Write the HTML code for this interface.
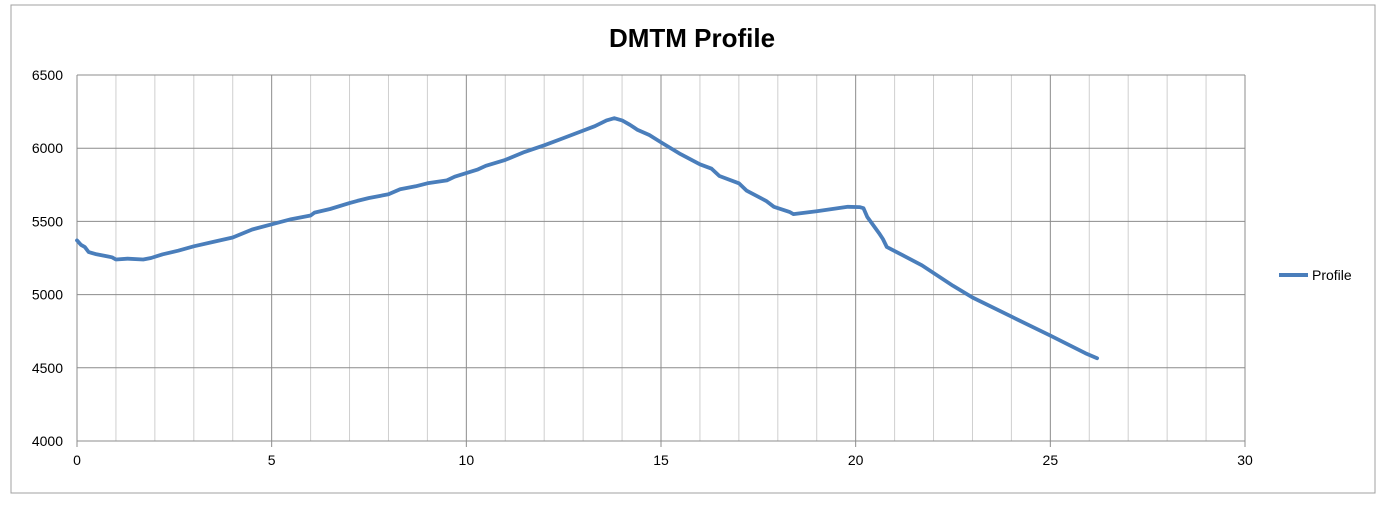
<!DOCTYPE html>
<html><head><meta charset="utf-8"><style>
html,body{margin:0;padding:0;background:#fff;width:1386px;height:510px;overflow:hidden}
svg{display:block;font-family:"Liberation Sans",sans-serif}
</style></head><body>
<svg id="chart" width="1386" height="510">
<rect x="11" y="5" width="1364" height="488" fill="#fff" stroke="#a0a0a0"/>
<text x="692" y="47" text-anchor="middle" font-size="26" font-weight="bold" fill="#000">DMTM Profile</text>
<g id="grid"></g><g id="axes"></g><g id="series"></g>
<g>
<line x1="1279" y1="275" x2="1308" y2="275" stroke="#4a7ebb" stroke-width="4"/>
<text x="1312" y="280" font-size="14" fill="#000">Profile</text>
</g>
</svg>
<script>
const xVals=[0,0.1,0.2,0.3,0.5,0.8,0.9,1.0,1.3,1.7,1.9,2.2,2.6,3,3.5,4,4.5,5,5.5,6,6.1,6.5,7,7.2,7.5,8,8.3,8.7,9,9.5,9.7,10,10.3,10.5,11,11.5,12,12.5,13,13.3,13.6,13.8,14,14.2,14.4,14.7,15,15.5,16,16.3,16.5,17,17.2,17.7,17.9,18.3,18.4,19,19.8,20.1,20.2,20.3,20.6,20.7,20.8,21.2,21.7,22.5,23,24,25,25.9,26.2];
const yVals=[5370,5340,5325,5290,5275,5260,5255,5240,5245,5240,5250,5275,5300,5330,5360,5390,5445,5480,5515,5540,5560,5585,5625,5640,5660,5685,5720,5740,5760,5780,5805,5830,5855,5880,5920,5975,6020,6070,6120,6150,6190,6205,6190,6160,6125,6090,6040,5960,5890,5860,5810,5760,5710,5640,5600,5565,5550,5570,5600,5598,5590,5530,5420,5380,5325,5270,5200,5060,4980,4850,4720,4600,4565];
const xTicks=[0,5,10,15,20,25,30];
const yTicks=[4000,4500,5000,5500,6000,6500];
const X0=77,X1=1245,Y0=441,Y1=75,xMin=0,xMax=30,yMin=4000,yMax=6500;
const sx=v=>X0+(v-xMin)/(xMax-xMin)*(X1-X0);
const sy=v=>Y0-(v-yMin)/(yMax-yMin)*(Y0-Y1);
const NS="http://www.w3.org/2000/svg";
function mk(t,a,p){const e=document.createElementNS(NS,t);for(const k in a)e.setAttribute(k,a[k]);p.appendChild(e);return e;}
const grid=document.getElementById('grid'),axes=document.getElementById('axes'),ser=document.getElementById('series');
for(let i=xMin;i<=xMax;i++){
 const major=i%5===0;
 const l=mk('line',{x1:sx(i),x2:sx(i),y1:Y1,y2:Y0,stroke:major?'#8c8c8c':'#cfcfcf','stroke-width':1},grid);
 
 
}
yTicks.forEach(v=>{
 const l=mk('line',{x1:X0,x2:X1,y1:sy(v),y2:sy(v),stroke:'#8c8c8c','stroke-width':1},grid);
 
 
 const t=mk('text',{x:X0-14,y:sy(v)+5,'text-anchor':'end','font-size':14,fill:'#000'},axes);
 t.textContent=v;
 
 
});
xTicks.forEach(v=>{
 const k=mk('line',{x1:sx(v),x2:sx(v),y1:Y0,y2:Y0+6,stroke:'#8c8c8c'},axes);
 
 
 const t=mk('text',{x:sx(v),y:Y0+24,'text-anchor':'middle','font-size':14,fill:'#000'},axes);
 t.textContent=v;
 
 
});
const pts=xVals.map((x,i)=>sx(x).toFixed(1)+','+sy(yVals[i]).toFixed(1)).join(' ');
const pl=mk('polyline',{points:pts,fill:'none',stroke:'#4a7ebb','stroke-width':3.8,'stroke-linejoin':'round','stroke-linecap':'round'},ser);


</script>
</body></html>
